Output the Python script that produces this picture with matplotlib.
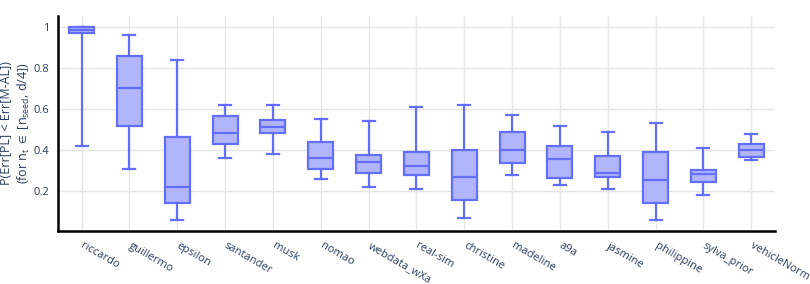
import matplotlib
matplotlib.use("Agg")
import matplotlib.pyplot as plt
from matplotlib.ticker import FixedLocator, FixedFormatter

plt.rcParams['font.family'] = ['Open Sans', 'DejaVu Sans']
plt.rcParams['mathtext.default'] = 'regular'

categories = ["riccardo", "guillermo", "epsilon", "santander", "musk", "nomao",
              "webdata_wXa", "real-sim", "christine", "madeline", "a9a", "jasmine",
              "philippine", "sylva_prior", "vehicleNorm"]
whislo = [0.421, 0.310, 0.061, 0.361, 0.382, 0.260, 0.221, 0.211, 0.070, 0.281, 0.231, 0.211, 0.060, 0.182, 0.351]
q1     = [0.974, 0.520, 0.141, 0.431, 0.483, 0.310, 0.291, 0.281, 0.159, 0.338, 0.265, 0.268, 0.141, 0.245, 0.369]
med    = [0.988, 0.702, 0.221, 0.483, 0.514, 0.361, 0.341, 0.323, 0.271, 0.401, 0.356, 0.291, 0.255, 0.284, 0.400]
q3     = [1.000, 0.861, 0.465, 0.566, 0.549, 0.439, 0.377, 0.392, 0.400, 0.491, 0.421, 0.374, 0.390, 0.305, 0.431]
whishi = [1.000, 0.964, 0.840, 0.621, 0.621, 0.553, 0.541, 0.611, 0.621, 0.571, 0.520, 0.491, 0.532, 0.411, 0.481]
yticks = [0.2, 0.4, 0.6, 0.8, 1.0]
ytick_labels = ["0.2", "0.4", "0.6", "0.8", "1"]

line_c = '#636efa'
fill_c = '#b1b6fc'
text_c = '#2a3f5f'

fig = plt.figure(figsize=(8.10, 2.84), dpi=100)
ax = fig.add_axes([0.0712, 0.1866, 0.957 - 0.0712, 0.9437 - 0.1866])

stats = []
for i, name in enumerate(categories):
    stats.append(dict(label=name, whislo=whislo[i], q1=q1[i], med=med[i],
                      q3=q3[i], whishi=whishi[i], fliers=[]))

positions = list(range(len(categories)))
ax.bxp(stats, positions=positions, widths=0.52, capwidths=0.25,
       patch_artist=True, showfliers=False,
       boxprops=dict(facecolor=fill_c, edgecolor=line_c, linewidth=1.6),
       medianprops=dict(color=line_c, linewidth=1.6),
       whiskerprops=dict(color=line_c, linewidth=1.6),
       capprops=dict(color=line_c, linewidth=1.6))

ax.set_xlim(-0.5, 14.5)
ax.set_ylim(0.006, 1.055)

ax.yaxis.set_major_locator(FixedLocator(yticks))
ax.yaxis.set_major_formatter(FixedFormatter(ytick_labels))
ax.set_xticks(positions)
ax.set_xticklabels(categories, rotation=-30, ha='left', va='center',
                   rotation_mode='anchor', color=text_c, fontsize=8)
ax.tick_params(axis='both', length=0, colors=text_c, labelsize=8)
ax.tick_params(axis='x', pad=10)
ax.tick_params(axis='y', pad=6)

ax.grid(True, color='#e5e5e5', linewidth=1)
ax.set_axisbelow(True)
for s in ['top', 'right']:
    ax.spines[s].set_visible(False)
for s in ['left', 'bottom']:
    ax.spines[s].set_color('black')
    ax.spines[s].set_linewidth(1.8)

ax.set_ylabel("P(Err[PL] < Err[M-AL])\n(for $n_t$ $\\in$ [$n_{seed}$, d/4])",
              color=text_c, fontsize=9, linespacing=1.3, va='center', ha='center')
ax.yaxis.set_label_coords(-0.058, 0.5)

fig.savefig("out.png", dpi=100)
